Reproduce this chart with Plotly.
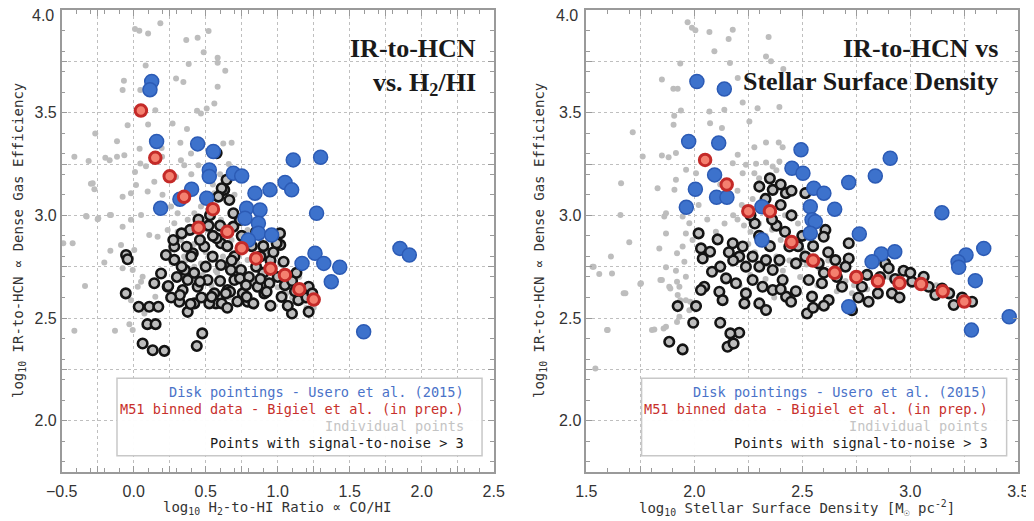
import plotly.graph_objects as go

# ---------------- LEFT PANEL DATA (x = log10 H2/HI) ----------------
left_red_x = [0.05, 0.15, 0.25, 0.35, 0.45, 0.55, 0.65, 0.75, 0.85, 0.95, 1.05, 1.15, 1.25]
left_red_y = [3.51, 3.28, 3.19, 3.09, 2.94, 3.03, 2.92, 2.84, 2.79, 2.74, 2.71, 2.64, 2.59]

left_blue_x = [0.125, 0.113, 0.159, 0.444, 0.553, 0.525, 0.525, 0.402, 0.321, 0.187, 0.507, 0.692,
               0.75, 0.842, 0.946, 1.051, 1.097, 1.108, 1.298, 1.27, 0.784, 0.877, 0.773, 0.866,
               0.866, 0.958, 0.796, 1.849, 1.914, 1.259, 1.169, 1.32, 1.431, 1.372, 1.597]
left_blue_y = [3.652, 3.612, 3.36, 3.348, 3.311, 3.221, 3.189, 3.127, 3.078, 3.034, 3.083, 3.205,
               3.192, 3.108, 3.124, 3.16, 3.124, 3.27, 3.283, 3.01, 3.034, 3.026, 2.986, 2.961,
               2.913, 2.904, 2.88, 2.839, 2.807, 2.815, 2.766, 2.766, 2.747, 2.677, 2.433]

left_snr_x = [-0.053, -0.042, -0.055, 0.19, 0.143, 0.236, 0.035, 0.108, 0.171, 0.095, 0.152, 0.062,
              0.132, 0.213, 0.476, 0.438, 0.375, 0.421, 0.317, 0.34, 0.375, 0.356, 0.282, 0.224,
              0.282, 0.41, 0.444, 0.513, 0.56, 0.571, 0.525, 0.652, 0.699, 0.675, 0.606, 0.548,
              0.49, 0.606, 0.757, 0.791, 0.861, 0.907, 0.942, 0.745, 0.629, 0.664, 1.099, 1.215,
              1.018, 1.041, 1.215, 0.333, 0.46, 0.541, 0.611, 0.669, 0.738, 0.784, 0.831, 0.923,
              1.027, 1.143, 0.645, 0.611, 0.588, 0.576, 0.391, 0.333, 0.275, 0.368, 0.46, 0.576,
              0.692, 0.738, 0.692, 0.993, 1.016, 0.321, 0.395, 0.24,
              0.80, 0.85, 0.90, 0.95, 1.00, 1.05, 1.10, 1.12, 1.20, 0.88, 0.82, 0.70, 0.65, 0.55,
              0.50, 0.42, 0.30, 0.26, 0.65, 0.72, 0.95, 1.07, 0.47, 0.60, 0.75, 0.85, 0.90, 0.53,
              0.60, 0.45, 0.97, 1.13, 1.24, 0.88, 0.68, 0.52, 0.40, 0.64, 0.78]
left_snr_y = [2.807, 2.786, 2.62, 2.717, 2.669, 2.652, 2.555, 2.555, 2.555, 2.47, 2.47, 2.376,
              2.343, 2.34, 2.425, 2.364, 2.53, 2.571, 2.579, 2.636, 2.685, 2.734, 2.783, 2.807,
              2.848, 2.815, 2.652, 2.685, 2.62, 2.571, 2.571, 2.636, 2.685, 2.734, 2.758, 2.799,
              2.848, 2.864, 2.62, 2.579, 2.652, 2.62, 2.669, 2.734, 3.124, 3.075, 2.522, 2.53,
              2.856, 2.774, 2.652, 2.75, 2.677, 2.603, 2.571, 2.628, 2.693, 2.603, 2.571, 2.628,
              2.603, 2.587, 3.173, 3.132, 3.091, 3.303, 2.929, 2.912, 2.88, 2.847, 2.88, 2.888,
              2.945, 2.977, 3.01, 2.864, 2.912, 2.612, 2.568, 2.656,
              2.70, 2.75, 2.72, 2.78, 2.70, 2.66, 2.68, 2.63, 2.60, 2.80, 2.85, 2.80, 2.85, 2.90,
              2.75, 2.72, 2.70, 2.60, 2.55, 2.58, 2.56, 2.56, 2.60, 2.68, 2.90, 2.92, 2.85, 3.00,
              2.95, 2.98, 2.82, 2.72, 2.62, 2.69, 2.78, 2.95, 2.80, 2.62, 2.66]

left_gray_x = [0.185, 0.009, 0.039, 0.1, 0.52, 0.365, 0.444, 0.486, 0.583, 0.583, 0.636, 0.382,
               0.083, 0.294, 0.345, 0.583, -0.068, -0.077, 0.046, 0.56, 0.507, 0.44, 0.467, 0.15,
               0.27, 0.1, -0.042, 0.37, -0.267, -0.116, 0.324, 0.041, 0.194, 0.622, 0.68, -0.412,
               -0.313, -0.197, -0.167, -0.116, -0.065, 0.046, 0.085, 0.197, 0.328, 0.398, 0.449,
               0.351, 0.009, -0.297, 0.143, 0.294, -0.285, -0.273, -0.077, -0.019, 0.016, 0.097,
               -0.331, -0.25, -0.158, -0.077, -0.019, 0.051, 0.108, 0.166, 0.236, 0.282, 0.305,
               -0.424, -0.162, -0.088, 0.004, -0.204, -0.077, -0.007, 0.062, 0.051, 0.028, -0.338,
               -0.019, 0.15, 0.074, -0.412, -0.13, -0.03, -0.007,
               0.467, 0.514, 0.56, 0.606, 0.652, 0.699, 0.745, 0.791, 0.838, 0.884, 0.93, 0.629,
               0.676, 0.722, 0.791, 0.421, 0.467, 0.328, 0.375, 0.421, 0.421, 0.467, 0.514, 0.56,
               0.375, 0.305, 0.259, 0.70, 0.60, 0.55, 0.66, 0.20, 0.25, 0.40, -0.489, -0.327,
               -0.246, -0.165, 1.10, 1.20, 1.15, 1.00, 1.25, 0.35, 0.50, 0.62, 0.74, 0.86, 0.98,
               0.58, 0.70, 0.82, 0.44, 0.54, 0.66, 0.78, 0.90, 1.02, 0.32, 0.24,
               0.49, 0.56, 0.42, 0.36, 0.57, 0.63, 0.72, 0.80, 0.93, 1.06, 1.18, 0.68, 0.48]
left_gray_y = [3.935, 3.907, 3.899, 3.886, 3.898, 3.854, 3.865, 3.794, 3.767, 3.743, 3.704, 3.737,
               3.73, 3.667, 3.649, 3.626, 3.655, 3.61, 3.61, 3.545, 3.52, 3.509, 3.496, 3.512,
               3.447, 3.442, 3.439, 3.42, 3.398, 3.361, 3.353, 3.324, 3.328, 3.35, 3.353, 3.285,
               3.265, 3.28, 3.268, 3.285, 3.293, 3.252, 3.239, 3.285, 3.268, 3.301, 3.244,
               3.244, 3.211, 3.154, 3.163, 3.187, 3.156, 3.127, 3.091, 3.108, 3.148, 3.116,
               2.997, 2.981, 3.002, 2.945, 2.978, 3.002, 2.904, 2.896, 2.929, 2.961, 2.92,
               2.864, 2.828, 2.856, 2.831, 2.77, 2.742, 2.734, 2.701, 2.677, 2.652, 2.656,
               2.587, 2.604, 2.522, 2.438, 2.438, 2.47, 2.441,
               2.896, 2.929, 2.912, 2.978, 2.945, 2.994, 2.961, 2.929, 2.848, 2.88, 2.815, 2.848,
               2.799, 2.766, 2.782, 2.75, 2.766, 2.88, 2.912, 2.945, 3.01, 3.043, 3.01, 3.043,
               2.978, 3.01, 3.043, 3.10, 3.20, 3.15, 3.25, 3.10, 3.20, 3.20, 2.864, 2.994,
               2.986, 3.002, 2.60, 2.55, 2.70, 2.65, 2.55, 2.80, 2.82, 2.80, 2.82, 2.78, 2.74,
               2.72, 2.70, 2.68, 2.64, 2.66, 2.60, 2.66, 2.70, 2.76, 2.74, 2.82,
               3.075, 3.108, 2.86, 2.78, 2.73, 2.76, 2.71, 2.67, 2.69, 2.62, 2.58, 2.88, 2.71]

# ---------------- RIGHT PANEL DATA (x = log10 stellar surface density) ----------------
right_red_x = [2.05, 2.15, 2.25, 2.35, 2.45, 2.55, 2.65, 2.75, 2.85, 2.95, 3.05, 3.15, 3.25]
right_red_y = [3.27, 3.15, 3.02, 3.02, 2.87, 2.78, 2.72, 2.70, 2.68, 2.67, 2.665, 2.63, 2.58]

right_blue_x = [2.012, 2.139, 1.974, 2.113, 2.494, 2.452, 2.503, 2.005, 2.094, 2.103, 2.151, 1.963,
                2.313, 2.313, 2.553, 2.6, 2.537, 2.545, 2.56, 2.537, 2.65, 2.715, 2.838, 2.907,
                2.764, 3.146, 3.34, 3.258, 3.221, 3.224, 3.301, 3.283, 3.458, 2.866, 2.928, 2.823,
                2.715]
right_blue_y = [3.652, 3.615, 3.36, 3.352, 3.319, 3.229, 3.205, 3.127, 3.197, 3.088, 3.088, 3.039,
                3.042, 2.88, 3.132, 3.108, 3.042, 2.978, 2.969, 2.913, 3.03, 3.16, 3.192, 3.278,
                2.909, 3.013, 2.839, 2.807, 2.774, 2.747, 2.682, 2.441, 2.506, 2.812, 2.823, 2.774,
                2.555]

right_snr_x = [2.02, 2.108, 2.031, 2.039, 2.073, 2.082, 2.147, 2.046, 2.031, 2.116, 2.131, 1.923,
               2.008, 1.995, 2.12, 2.208, 2.178, 2.154, 1.884, 1.946, 2.178, 2.224, 2.208, 2.27,
               2.239, 2.301, 2.332, 2.363, 2.193, 2.239, 2.232, 2.301, 2.332, 2.27, 2.316, 2.363,
               2.409, 2.425, 2.448, 2.394, 2.44, 2.471, 2.301, 2.363, 2.424,
               2.514, 2.607, 2.599, 2.715, 2.514, 2.576, 2.653, 2.715, 2.884, 2.969, 2.53, 2.591,
               2.684, 2.776, 2.545, 2.622, 2.807, 2.522, 2.73, 2.915, 3.008, 3.062, 3.085, 3.116,
               3.147, 3.201, 3.286, 2.9, 2.167, 2.182,
               2.35, 2.40, 2.45, 2.38, 2.42, 2.50, 2.30, 2.35, 2.48, 2.55, 2.62, 2.28, 2.26, 2.40,
               2.45, 2.60, 2.66, 2.70, 2.80, 2.86, 2.93, 3.00, 2.76, 2.85, 2.95, 2.55, 2.60, 2.47,
               2.40, 2.18, 2.12, 2.16, 3.18, 3.24, 2.33, 2.36]
right_snr_y = [2.912, 2.883, 2.839, 2.79, 2.823, 2.725, 2.693, 2.652, 2.636, 2.628, 2.587, 2.558,
               2.558, 2.477, 2.477, 2.428, 2.376, 2.36, 2.384, 2.347, 2.864, 2.848, 2.799, 2.799,
               2.75, 2.75, 2.782, 2.734, 2.669, 2.62, 2.571, 2.571, 2.539, 2.685, 2.652, 2.636,
               2.685, 2.604, 2.579, 2.782, 2.848, 2.766, 3.14, 3.124, 3.108,
               3.108, 2.929, 2.896, 2.864, 2.799, 2.766, 2.782, 2.79, 2.766, 2.73, 2.685, 2.669,
               2.652, 2.652, 2.604, 2.587, 2.579, 2.522, 2.538, 2.62, 2.677, 2.701, 2.652, 2.612,
               2.644, 2.563, 2.579, 2.742, 2.425, 2.376,
               3.18, 3.05, 3.00, 2.95, 2.92, 2.90, 2.90, 2.85, 2.85, 2.85, 2.82, 2.96, 3.00, 3.15,
               3.12, 2.72, 2.70, 2.75, 2.71, 2.70, 2.69, 2.72, 2.60, 2.62, 2.60, 2.55, 2.56, 2.63,
               2.64, 2.78, 2.75, 2.82, 2.62, 2.60, 3.08, 2.98]

right_gray_x = [1.969, 1.989, 2.005, 2.07, 2.178, 2.159, 2.344, 2.093, 1.935, 2.165, 2.332, 2.355,
                2.412, 1.85, 1.903, 1.923, 2.201, 2.224, 2.293, 2.394, 1.938, 1.907, 2.07, 2.139,
                1.904, 2.073, 2.128, 2.255, 1.715, 2.278, 2.332, 2.391, 2.409, 1.761, 1.85, 1.881,
                1.915, 2.201, 2.239, 2.286, 2.332, 2.363, 2.394, 2.178, 1.962, 2.008, 1.661, 1.915,
                2.224, 2.278,
                1.83, 1.908, 1.869, 1.861, 1.946, 1.977, 1.658, 1.869, 1.961, 1.992, 1.699, 1.838,
                1.946, 1.614, 1.92, 1.529, 1.56, 1.619, 1.869, 1.915, 1.954, 1.753, 1.85, 1.92,
                1.931, 1.884, 1.961, 1.681, 1.923, 1.599, 1.815, 1.869, 1.931, 1.977, 1.961,
                1.596, 1.804, 1.858, 1.92, 1.75, 1.673, 1.542, 1.534, 1.843, 1.889, 1.935, 1.981,
                2.20, 2.23, 2.26, 2.30, 2.33, 2.36, 2.40, 2.43, 2.47, 2.50, 2.25, 2.28, 2.32, 2.38,
                2.44, 2.52, 2.58, 2.64, 2.70, 2.22, 2.27, 2.35, 2.42, 2.48, 2.56, 2.62, 2.68, 2.74,
                2.80, 2.18, 2.14, 2.10, 2.06, 2.02, 2.12, 2.20, 2.30, 2.38,
                2.26, 2.33, 2.41, 2.49, 2.57, 2.66, 2.73, 2.90, 3.03, 3.12, 2.21, 2.37]
right_gray_y = [3.94, 3.913, 3.901, 3.893, 3.904, 3.859, 3.869, 3.799, 3.739, 3.742, 3.774, 3.75,
                3.713, 3.661, 3.617, 3.617, 3.669, 3.55, 3.522, 3.527, 3.511, 3.485, 3.506, 3.514,
                3.441, 3.449, 3.425, 3.457, 3.405, 3.332, 3.355, 3.355, 3.332, 3.287, 3.291, 3.283,
                3.303, 3.295, 3.246, 3.251, 3.257, 3.238, 3.262, 3.254, 3.222, 3.205, 3.156, 3.173,
                3.205, 3.205,
                3.132, 3.124, 3.01, 2.994, 2.994, 2.961, 3.002, 2.912, 2.912, 2.88, 2.869, 2.839,
                2.848, 2.799, 2.815, 2.75, 2.714, 2.717, 2.747, 2.73, 2.774, 2.669, 2.685, 2.677,
                2.652, 2.652, 2.701, 2.62, 2.612, 2.441, 2.444, 2.457, 2.506, 2.538, 2.587,
                2.441, 2.441, 2.449, 2.48, 2.665, 2.62, 2.254, 2.75, 2.685, 2.644, 2.587, 2.579,
                2.98, 2.95, 2.92, 2.96, 2.90, 2.93, 2.88, 2.90, 2.86, 2.83, 2.86, 2.82, 2.88, 2.80,
                2.78, 2.76, 2.74, 2.72, 2.68, 3.05, 3.08, 3.02, 3.00, 2.96, 2.80, 2.78, 2.74, 2.66,
                2.64, 3.00, 2.96, 2.92, 2.98, 3.05, 3.15, 3.12, 3.18, 3.22,
                2.71, 2.69, 2.73, 2.70, 2.66, 2.63, 2.62, 2.70, 2.68, 2.66, 2.66, 2.60]

# ---------------- STYLE / LAYOUT ----------------
W, H = 1034, 521
OFF = 8.0                       # page body margin of the browser
PL, PR = 61.7, 493.7            # left panel pixel extents (in screenshot)
QL, QR = 586.3, 1018.3          # right panel pixel extents
PT, PB = 10.0, 472.0            # top / bottom


def px(xp):
    return (xp - OFF) / W


def py(yp):
    return 1 - (yp - OFF) / H


GRAY = "#bdbdbd"
BLUE = "#3d72cc"
BLUE_EDGE = "#2c5bb5"
RED_FILL = "#f4806f"
RED_EDGE = "#c42a28"
FRAME = "#9a9a9a"
MONO = "DejaVu Sans Mono"

fig = go.Figure()


def add_panel(xa, ya, gx, gy, sx, sy, bx, by, rx, ry):
    fig.add_trace(go.Scatter(x=gx, y=gy, mode="markers", xaxis=xa, yaxis=ya,
                             marker=dict(size=6, color=GRAY, line=dict(width=0)),
                             showlegend=False, hoverinfo="skip"))
    fig.add_trace(go.Scatter(x=sx, y=sy, mode="markers", xaxis=xa, yaxis=ya,
                             marker=dict(size=9.5, color=GRAY, line=dict(width=2.6, color="#141414")),
                             showlegend=False, hoverinfo="skip"))
    fig.add_trace(go.Scatter(x=bx, y=by, mode="markers", xaxis=xa, yaxis=ya,
                             marker=dict(size=14, color=BLUE, line=dict(width=1.5, color=BLUE_EDGE)),
                             showlegend=False, hoverinfo="skip"))
    fig.add_trace(go.Scatter(x=rx, y=ry, mode="markers", xaxis=xa, yaxis=ya,
                             marker=dict(size=11.5, color=RED_FILL, line=dict(width=3, color=RED_EDGE)),
                             showlegend=False, hoverinfo="skip"))


add_panel("x", "y", left_gray_x, left_gray_y, left_snr_x, left_snr_y,
          left_blue_x, left_blue_y, left_red_x, left_red_y)
add_panel("x2", "y2", right_gray_x, right_gray_y, right_snr_x, right_snr_y,
          right_blue_x, right_blue_y, right_red_x, right_red_y)

TICKFONT = dict(family="Liberation Sans", size=16, color="#333")
MINOR = dict(tickmode="linear", tick0=0, dtick=0.1, ticks="inside", ticklen=4,
             tickcolor=FRAME, showgrid=False)


def xaxis_cfg(lo, hi, left, right, anchor):
    vals = []
    v = lo
    while v <= hi + 1e-9:
        vals.append(round(v, 2))
        v += 0.25
    text = [(("%.1f" % t).replace("-", "\u2212") if abs((t * 2) - round(t * 2)) < 1e-6 else " ")
            for t in vals]
    return dict(domain=[px(left), px(right)], range=[lo, hi], anchor=anchor, tickmode="array",
                tickvals=vals, ticktext=text, ticks="inside", ticklen=6, tickwidth=1,
                tickcolor=FRAME, showline=True, linecolor=FRAME, linewidth=1.5, mirror="ticks",
                showgrid=True, gridcolor="#bfbfbf", griddash="dot", gridwidth=1, zeroline=False,
                automargin=False, ticklabelstandoff=4, ticklabeloverflow="allow",
                tickfont=TICKFONT, minor=MINOR)


YVALS = [1.75, 2.0, 2.25, 2.5, 2.75, 3.0, 3.25, 3.5, 3.75, 4.0]


def yaxis_cfg(anchor):
    # the top label (4.0) sits at the page edge; it is drawn as an annotation below
    text = [("%.1f" % t if abs(t * 2 - round(t * 2)) < 1e-6 and t < 3.99 else " ") for t in YVALS]
    return dict(domain=[py(PB), py(PT)], range=[1.75, 4.0], anchor=anchor,
                tickmode="array", tickvals=YVALS, ticktext=text, ticks="inside", ticklen=6,
                tickwidth=1, tickcolor=FRAME, showline=True, linecolor=FRAME, linewidth=1.5,
                mirror="ticks", showgrid=True, gridcolor="#bfbfbf", griddash="dot", gridwidth=1,
                zeroline=False, automargin=False, tickfont=TICKFONT, minor=MINOR)


fig.update_layout(
    width=W, height=H, margin=dict(l=0, r=0, t=0, b=0, autoexpand=False),
    paper_bgcolor="white", plot_bgcolor="white", showlegend=False,
    xaxis=xaxis_cfg(-0.5, 2.5, PL, PR, "y"),
    yaxis=yaxis_cfg("x"),
    xaxis2=xaxis_cfg(1.5, 3.5, QL, QR, "y2"),
    yaxis2=yaxis_cfg("x2"),
)

ann = []
# top y-axis label "4.0" for each panel
for xe in (PL, QL):
    ann.append(dict(text="%.1f" % YVALS[-1], x=px(xe - 6), y=py(15), xref="paper", yref="paper",
                    xanchor="right", yanchor="middle", showarrow=False, font=TICKFONT))

TF = dict(family="Liberation Serif", size=26, color="#1a1a1a")
ann.append(dict(text="<b>IR-to-HCN</b>", x=px(478), y=py(48), xref="paper", yref="paper",
                xanchor="right", yanchor="middle", showarrow=False, font=TF))
ann.append(dict(text="<b>vs. H<sub>2</sub>/HI</b>", x=px(478), y=py(84), xref="paper",
                yref="paper", xanchor="right", yanchor="middle", showarrow=False, font=TF))
ann.append(dict(text="<b>IR-to-HCN vs</b>", x=px(1000), y=py(48), xref="paper", yref="paper",
                xanchor="right", yanchor="middle", showarrow=False, font=TF))
ann.append(dict(text="<b>Stellar Surface Density</b>", x=px(1000), y=py(81), xref="paper",
                yref="paper", xanchor="right", yanchor="middle", showarrow=False, font=TF))

AXF = dict(family=MONO, size=14, color="#333")
ytitle = "log<sub>10</sub> IR-to-HCN \u221d Dense Gas Efficiency"
ann.append(dict(text=ytitle, x=px(8), y=py(241), xref="paper", yref="paper",
                textangle=-90, xanchor="left", yanchor="middle", showarrow=False, font=AXF))
ann.append(dict(text=ytitle, x=px(540), y=py(241), xref="paper", yref="paper",
                textangle=-90, xanchor="center", yanchor="middle", showarrow=False, font=AXF))
ann.append(dict(text="log<sub>10</sub> H<sub>2</sub>-to-HI Ratio \u221d CO/HI",
                x=px(277), y=py(508), xref="paper", yref="paper", xanchor="center",
                yanchor="middle", showarrow=False, font=AXF))
ann.append(dict(text="log<sub>10</sub> Stellar Surface Density [M<sub>\u2609</sub> pc<sup>-2</sup>]",
                x=px(797), y=py(508), xref="paper", yref="paper", xanchor="center",
                yanchor="middle", showarrow=False, font=AXF))

legend_lines = [("Disk pointings - Usero et al. (2015)", "#4a72c8"),
                ("M51 binned data - Bigiel et al. (in prep.)", "#c8302c"),
                ("Individual points", "#c4c4c4"),
                ("Points with signal-to-noise > 3", "#1a1a1a")]
line_y = [392, 409, 426, 443]
shapes = []
for xa, ya, xr in (("x", "y", 0.936), ("x2", "y2", 0.934)):
    shapes.append(dict(type="rect", xref=xa + " domain", yref=ya + " domain",
                       x0=0.128, x1=0.973, y0=0.035, y1=0.203,
                       line=dict(color="#c8c8c8", width=1.5), fillcolor="rgba(255,255,255,0.97)",
                       layer="above"))
    for (txt, col), yy in zip(legend_lines, line_y):
        ann.append(dict(text=txt, x=xr, y=(PB - yy) / (PB - PT), xref=xa + " domain",
                        yref=ya + " domain", xanchor="right", yanchor="middle", showarrow=False,
                        font=dict(family=MONO, size=13.6, color=col)))

fig.update_layout(annotations=ann, shapes=shapes)
fig.write_html("out.html")
